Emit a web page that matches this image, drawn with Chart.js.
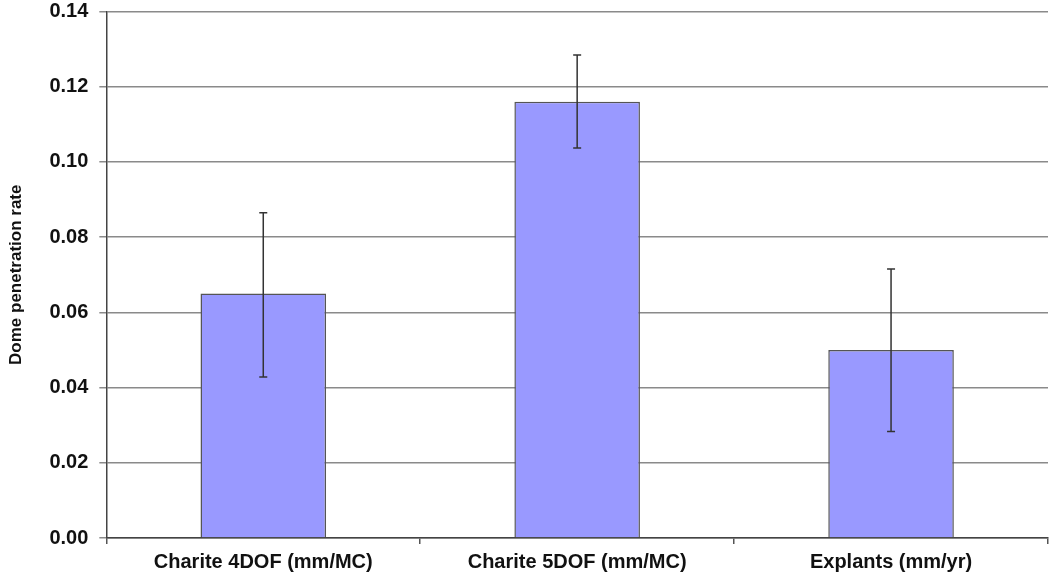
<!DOCTYPE html>
<html>
<head>
<meta charset="utf-8">
<script src="https://cdn.jsdelivr.net/npm/chart.js@4.4.1/dist/chart.umd.min.js"></script>
<style>
  html, body { margin: 0; padding: 0; background: #fff; }
  #wrap { width: 1050px; height: 581px; }
</style>
</head>
<body>
<div id="wrap"><canvas id="chart"></canvas></div>
<script>
const categories = ['Charite 4DOF (mm/MC)', 'Charite 5DOF (mm/MC)', 'Explants (mm/yr)'];
const rates = [0.065, 0.116, 0.050];
const errUpper = [0.0865, 0.1284, 0.0715];
const errLower = [0.0428, 0.1037, 0.0283];
const yTicks = [0, 0.02, 0.04, 0.06, 0.08, 0.10, 0.12, 0.14];

// draws the error bars through the chart's own scales
const errorBars = {
  id: 'errorBars',
  afterDatasetsDraw(chart) {
    const ctx = chart.ctx;
    const yScale = chart.scales.y;
    const meta = chart.getDatasetMeta(0);
    ctx.save();
    ctx.strokeStyle = '#333';
    ctx.lineWidth = 1.5;
    meta.data.forEach((bar, i) => {
      const x = bar.x;
      const yTop = yScale.getPixelForValue(errUpper[i]);
      const yBot = yScale.getPixelForValue(errLower[i]);
      ctx.beginPath();
      ctx.moveTo(x, yTop); ctx.lineTo(x, yBot);
      ctx.moveTo(x - 4, yTop); ctx.lineTo(x + 4, yTop);
      ctx.moveTo(x - 4, yBot); ctx.lineTo(x + 4, yBot);
      ctx.stroke();
    });
    ctx.restore();
  }
};

document.addEventListener("DOMContentLoaded", function() {
  const ctx = document.getElementById('chart').getContext('2d');
  new Chart(ctx, {
    type: 'bar',
    data: {
      labels: categories,
      datasets: [{
        data: rates,
        backgroundColor: '#9999ff',
        borderColor: '#555',
        borderWidth: 1.5,
        categoryPercentage: 0.8,
        barPercentage: 0.5
      }]
    },
    options: {
      responsive: true,
      maintainAspectRatio: false,
      animation: { duration: 0 },
      layout: { padding: { top: 0, right: 2, left: 6, bottom: 1 } },
      plugins: {
        legend: { display: false },
        tooltip: { enabled: false }
      },
      scales: {
        x: {
          grid: { offset: true, drawOnChartArea: false, drawTicks: true, tickLength: 6, color: '#555', lineWidth: 1.5 },
          border: { color: '#444', width: 1.5 },
          ticks: { color: '#111', font: { family: 'Liberation Sans', size: 20, weight: 'bold' }, padding: 6 }
        },
        y: {
          min: 0,
          max: 0.14,
          afterBuildTicks: axis => { axis.ticks = yTicks.map(v => ({ value: v })); },
          grid: { color: '#8a8a8a', lineWidth: 1.5, tickLength: 7 },
          border: { color: '#444', width: 1.5 },
          ticks: {
            color: '#111',
            font: { family: 'Liberation Sans', size: 20, weight: 'bold', lineHeight: 0.05 },
            padding: 11,
            callback: v => v.toFixed(2)
          },
          title: {
            display: true,
            text: 'Dome penetration rate',
            color: '#111',
            font: { family: 'Liberation Sans', size: 17, weight: 'bold' },
            padding: { top: 0, bottom: 12 }
          }
        }
      }
    },
    plugins: [errorBars]
  });
});
</script>
</body>
</html>
